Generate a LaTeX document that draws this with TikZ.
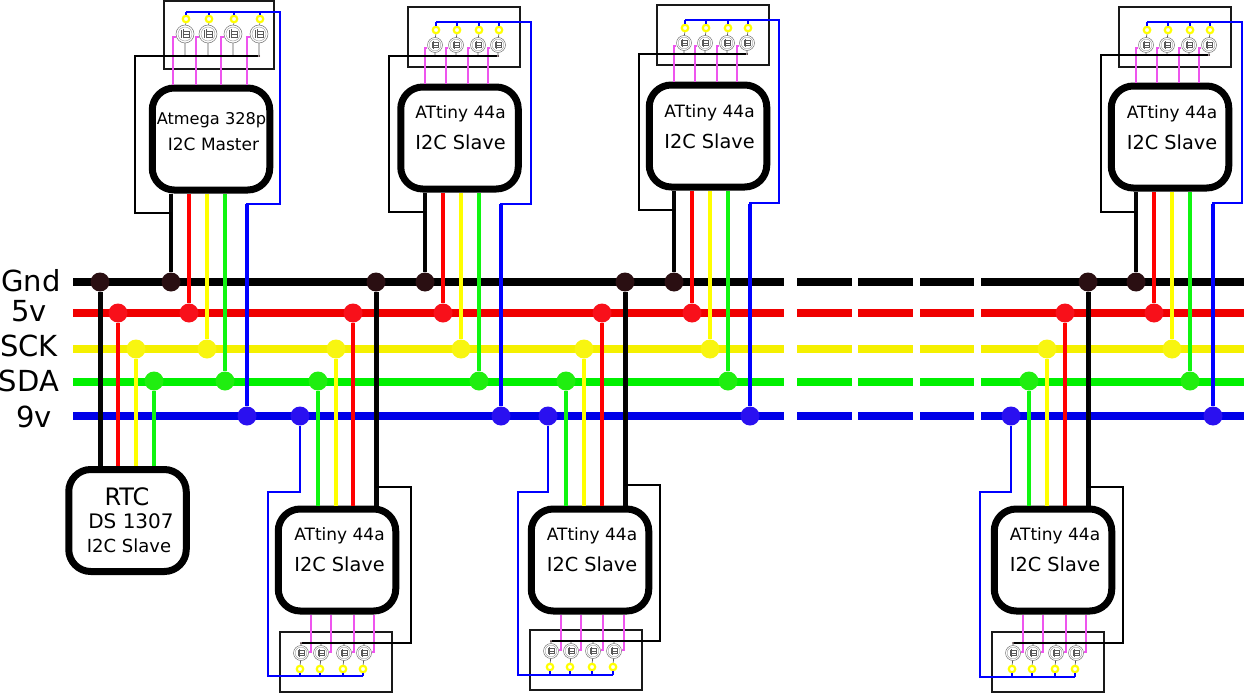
\documentclass[tikz,border=0pt]{standalone}
\usepackage{fontspec}
\setmainfont{DejaVu Sans}
\definecolor{jk}{HTML}{2A0F12}
\definecolor{jr}{HTML}{F8101A}
\definecolor{jy}{HTML}{F8F510}
\definecolor{jg}{HTML}{20EE10}
\definecolor{jb}{HTML}{2A10F0}
\definecolor{bk}{HTML}{000000}
\definecolor{br}{HTML}{F00000}
\definecolor{by}{HTML}{F5F000}
\definecolor{bg}{HTML}{00F000}
\definecolor{bb}{HTML}{0000E8}
\definecolor{wk}{HTML}{050505}
\definecolor{wr}{HTML}{FF0000}
\definecolor{wy}{HTML}{FFFF00}
\definecolor{wg}{HTML}{10F510}
\definecolor{wb}{HTML}{0000FF}
\definecolor{pink}{HTML}{EE55EE}
\tikzset{
  junc/.style={circle,inner sep=0pt,minimum size=19pt},
  chipbox/.style={draw=black,fill=white,line width=7pt,rounded corners=22pt,minimum width=117.5pt,minimum height=102pt,inner sep=0pt},
  boardbox/.style={draw=black!90,line width=1.3pt,inner sep=0pt},
  fetnode/.style={circle,draw=black!55,line width=.5pt,inner sep=0pt,minimum size=2*\fr pt},
  ringnode/.style={circle,draw=wy,line width=2.2pt,fill=white,inner sep=0pt,minimum size=6.5pt},
  dotnode/.style={circle,fill=jk,inner sep=0pt,minimum size=2pt},
  gatew/.style={draw=pink,line width=1.1pt},
  railk/.style={draw=black,line width=1.3pt},
  railb/.style={draw=wb,line width=2.8pt},
  wirek/.style={draw=wk,line width=4pt},
  wirekb/.style={draw=wk,line width=5pt},
  wire/.style={line width=4.3pt},
  txt/.style={inner sep=0pt,text=black},
}
% connection points on the buses and their wires to a chip
\newcommand\tap[5]{%
  \node[junc,fill=jk] (#1k) at (#2,282) {};
  \node[junc,fill=jr] (#1r) at (#3,313) {};
  \node[junc,fill=jy] (#1y) at (#4,349) {};
  \node[junc,fill=jg] (#1g) at (#5,381) {};
}
\newcommand\tapwires[3]{%
  \draw[#3] (#1k) -- (#1k |- #2);
  \draw[wire,wr] (#1r) -- (#1r |- #2);
  \draw[wire,wy] (#1y) -- (#1y |- #2);
  \draw[wire,wg] (#1g) -- (#1g |- #2);
}
% row of four transistors: name, x1..x4, ring y, fet y, drain y, control y
\newcommand\fetrow[9]{%
  \foreach \i/\x in {1/#2,2/#3,3/#4,4/#5}{
    \node[fetnode] (#1-f\i) at (\x,#7) {};
    \begin{scope}[shift={(\x,#7)},x=\fr pt,y=\fr pt]
      \draw[black!45,line width=.35pt] (0,0) circle (.78);
      \draw[black!65,line width=.4pt] (-.42,-.42) -- (-.42,.42) (-.22,-.5) -- (-.22,.5)
        (-.22,-.35) -- (.42,-.35) -- (.42,.35) -- (-.22,.35) (-.22,0) -- (.42,0);
    \end{scope}
    \node[ringnode] (#1-y\i) at ({\x+\yo},#6) {};
    \node[dotnode] (#1-d\i) at (\x,#8) {};
    \coordinate (#1-b\i) at ({\x+\yo},#9);
    \coordinate (#1-g\i) at ({\x+\go},{#7+\gdy});
    \draw[black!65,line width=.7pt] (#1-y\i) -- (#1-f\i) -- (#1-d\i);
    \draw[gatew] (#1-g\i -| #1-f\i.\gs) -- (#1-g\i) -- (#1-g\i |- #1.\ca);
    \draw[wb,line width=2pt] (#1-y\i) -- (#1-b\i);
  }
  \draw[railk] (#1-d1) -- (#1-d4);
  \draw[railb] (#1-b1) -- (#1-b4);
}
\begin{document}
\begin{tikzpicture}[x=1pt,y=-1pt]
\useasboundingbox (0,0) rectangle (1244,693);
% buses
\foreach \n/\yy/\c in {gnd/282/bk,five/313/br,sck/349/by,sda/382/bg,nine/416/bb}{
  \coordinate (\n A) at (73,\yy);
  \coordinate (\n B) at (784,\yy);
  \coordinate (\n C) at (797,\yy);
  \coordinate (\n D) at (852,\yy);
  \coordinate (\n E) at (858,\yy);
  \coordinate (\n F) at (913,\yy);
  \coordinate (\n G) at (920,\yy);
  \coordinate (\n H) at (974,\yy);
  \coordinate (\n I) at (981,\yy);
  \coordinate (\n J) at (986,\yy);
  \coordinate (\n K) at (1244,\yy);
  \draw[\c,line width=7.3pt] (\n A) -- (\n B) (\n C) -- (\n D) (\n E) -- (\n F) (\n G) -- (\n H) (\n I) -- (\n K);
  \draw[\c,line width=8.3pt] (\n J) -- (\n K);
}
% labels of the buses
\node[txt,font=\fontsize{29}{30}\selectfont] (lgnd) at (31,281) {Gnd};
\node[txt,font=\fontsize{29}{30}\selectfont] (lfive) at (29,311) {5v};
\node[txt,font=\fontsize{29}{30}\selectfont] (lsck) at (29,346) {SCK};
\node[txt,font=\fontsize{29}{30}\selectfont] (lsda) at (29,381) {SDA};
\node[txt,font=\fontsize{29}{30}\selectfont] (lnine) at (34,417) {9v};
% connection points
\tap{z}{100}{118}{136}{154}
\tap{a}{171}{189}{207}{225}
\tap{b}{425}{443}{461}{479}
\tap{c}{674}{692}{710}{728}
\tap{d}{1136}{1154}{1172}{1190}
\tap{e}{376}{353}{336}{318}
\tap{f}{625}{602}{584}{566}
\tap{h}{1088}{1065}{1047}{1029}
\foreach \n/\xx in {a/247,b/501,c/750,d/1213,e/300,f/548,h/1011}{
  \node[junc,fill=jb] (\n b) at (\xx,416) {};
}
% chips
\node[chipbox] (rtc) at (127.5,520.5) {};
\node[chipbox] (a) at (211,139) {};
\node[chipbox] (b) at (459.5,138) {};
\node[chipbox] (c) at (708,136) {};
\node[chipbox] (d) at (1170,137) {};
\node[chipbox] (e) at (337,560) {};
\node[chipbox] (f) at (590,560) {};
\node[chipbox] (h) at (1053,560) {};
% wires from the buses to the chips
\tapwires{z}{rtc.north}{wirekb}
\tapwires{a}{a.south}{wirek}
\tapwires{b}{b.south}{wirek}
\tapwires{c}{c.south}{wirek}
\tapwires{d}{d.south}{wirek}
\tapwires{e}{e.north}{wirekb}
\tapwires{f}{f.north}{wirekb}
\tapwires{h}{h.north}{wirekb}
% chip texts
\node[txt,font=\fontsize{24}{26}\selectfont] (t0a) at (127,497) {RTC};
\node[txt,font=\fontsize{20}{22}\selectfont] (t0b) at (131,521) {DS 1307};
\node[txt,font=\fontsize{18}{20}\selectfont] (t0c) at (129,546) {I2C Slave};
\node[txt,font=\fontsize{16.2}{18}\selectfont] (t1a) at (211.5,120) {Atmega 328p};
\node[txt,font=\fontsize{17}{19}\selectfont] (t1b) at (213.5,144) {I2C Master};
\foreach \n/\xx/\ya/\yb in {t2/460.5/114/142,t3/709.5/113/141,t4/1172/114/142,t5/339.5/536/564,t6/592/536/564,t7/1055/536/564}{
  \node[txt,font=\fontsize{17}{19}\selectfont] (\n a) at (\xx,\ya) {ATtiny 44a};
  \node[txt,font=\fontsize{19.3}{21}\selectfont] (\n b) at (\xx,\yb) {I2C Slave};
}
% boards on top
\def\yo{1}\def\gs{west}\def\ca{north}\def\gdy{3}
\def\fr{9}\def\go{-12}
\node[boardbox,minimum width=110pt,minimum height=68pt] (board-a) at (219,35) {};
\fetrow{a}{185}{208}{233}{259}{19}{34}{56}{12}
\def\fr{7.5}\def\go{-10}
\node[boardbox,minimum width=112pt,minimum height=60pt] (board-b) at (464,37) {};
\fetrow{b}{435}{456}{478}{498}{30}{45}{56}{22}
\node[boardbox,minimum width=112pt,minimum height=60pt] (board-c) at (713,35) {};
\fetrow{c}{684}{705}{727}{747}{28}{43}{54}{20}
\node[boardbox,minimum width=112pt,minimum height=60pt] (board-d) at (1175,37) {};
\fetrow{d}{1146}{1167}{1189}{1209}{30}{45}{55}{22}
% boards below
\def\yo{-1}\def\gs{east}\def\ca{south}\def\gdy{-1}\def\go{10}
\node[boardbox,minimum width=112pt,minimum height=60pt] (board-e) at (336,662) {};
\fetrow{e}{301}{321}{344}{364}{669}{653}{643}{676}
\node[boardbox,minimum width=112pt,minimum height=60pt] (board-f) at (586,660) {};
\fetrow{f}{551}{571}{593}{614}{667}{651}{641}{675}
\node[boardbox,minimum width=112pt,minimum height=60pt] (board-h) at (1048,662) {};
\fetrow{h}{1013}{1033}{1056}{1076}{669}{653}{643}{677}
% thin ground returns
\draw[railk] (a-d4) -| (135,213) -| (ak);
\draw[railk] (b-d4) -| (389,212) -| (bk);
\draw[railk] (c-d4) -| (639,210) -| (ck);
\draw[railk] (d-d4) -| (1101,212) -| (dk);
\draw[railk] (e-d1) -| (411,487) -| (ek);
\draw[railk] (f-d1) -| (660,485) -| (fk);
\draw[railk] (h-d1) -| (1123,487) -| (hk);
% supply wires
\foreach \n in {a,b,c,d}{\draw[wb,line width=4.3pt] (\n b) -- (\n b |- 0,204);}
\draw[railb] (a-b1) -| (280,204) -| (ab);
\draw[railb] (b-b1) -| (531,204) -| (bb);
\draw[railb] (c-b1) -| (779,203) -| (cb);
\draw[railb] (d-b1) -| (1242,203) -| (db);
\draw[railb] (e-b4) -| (268,492) -| (eb);
\draw[railb] (f-b4) -| (518,492) -| (fb);
\draw[railb] (h-b4) -| (980,492) -| (hb);
\end{tikzpicture}
\end{document}
